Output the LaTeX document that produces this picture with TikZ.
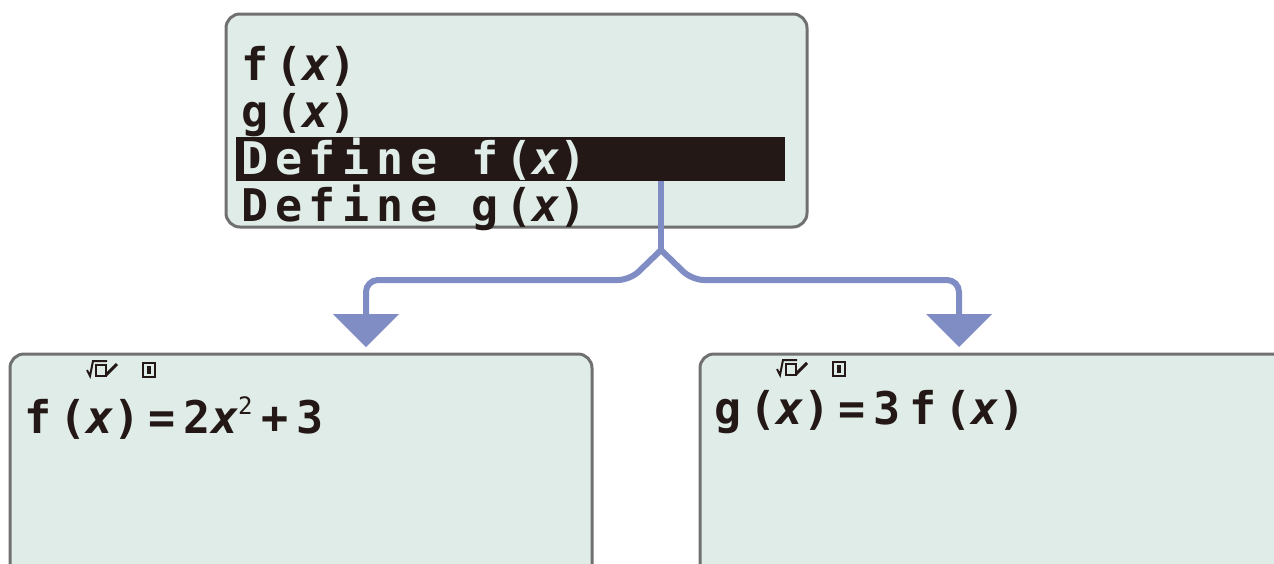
\documentclass[tikz,border=0pt]{standalone}
\usepackage{fontspec}
\setmonofont{DejaVu Sans Mono}
\newfontfamily\lcd[LetterSpace=15]{DejaVu Sans Mono}
\newfontfamily\lcdwide[LetterSpace=18]{DejaVu Sans Mono}
\definecolor{screen}{RGB}{224,236,232}
\definecolor{frame}{RGB}{112,112,112}
\definecolor{ink}{RGB}{35,24,21}
\definecolor{flow}{RGB}{128,140,196}
\tikzset{
  screenbox/.style={draw=frame, line width=3pt, fill=screen, rounded corners=14pt},
  lcdtext/.style={anchor=base west, inner sep=0pt, text=ink, font=\lcd\bfseries\fontsize{45}{45}\selectfont},
  lcdwidetext/.style={lcdtext, font=\lcdwide\bfseries\fontsize{45}{45}\selectfont},
  flowline/.style={draw=flow, line width=6pt},
  flowhead/.style={fill=flow, draw=none},
  iconline/.style={draw=ink, line width=2pt},
  pics/indicators/.style={code={
    \draw[iconline] (0,10) -- (3,16) -- (6,1) -- (20,1);
    \draw[iconline] (9,5) rectangle (19,16);
    \draw[iconline, line width=3pt] (19,15) -- (30,4);
    \draw[iconline] (56,3) rectangle (68,17);
    \fill[ink] (60,6) rectangle (64,14);
  }}
}
\newcommand{\xv}{{\itshape x}}
\begin{document}
\begin{tikzpicture}[x=1pt,y=-1pt]
\useasboundingbox (0,0) rectangle (1274,563);
% top screen
\draw[screenbox] (226,14) rectangle (807,227);
\node[inner sep=0pt, fill=ink, minimum width=549pt, minimum height=44pt, anchor=north west] (bar) at (236,137) {};
\node[lcdtext] (l1) at (241,80) {f(\xv)};
\node[lcdtext] (l2) at (241,127) {g(\xv)};
\node[lcdtext, text=screen] (l3) at (241,174) {Define f(\xv)};
\node[lcdtext] (l4) at (241,221) {Define g(\xv)};
% bottom screens
\draw[screenbox] (10,354) rectangle (592,600);
\draw[screenbox] (700,354) rectangle (1300,600);
\coordinate (lbox) at (366,354);
\coordinate (rbox) at (959,354);
\pic at (87,360) {indicators};
\pic at (777,359) {indicators};
\node[lcdwidetext] (fdef) at (24,433) {f(\xv)=2\xv\raisebox{19pt}{\fontsize{24}{24}\selectfont\mdseries 2}\kern9pt+3};
\node[lcdwidetext] (gdef) at (714,424) {g(\xv)=3f(\xv)};
% connectors
\coordinate (start) at (661,181);
\coordinate (split) at (661,250);
\draw[flowline] (start) -- (split);
\draw[flowline, rounded corners=12pt] (split) -- (630,280) -- (366,280) -- (366,318);
\draw[flowline, rounded corners=12pt] (split) -- (692,280) -- (959,280) -- (959,318);
\fill[flowhead] (333,314) -- (399,314) -- (366,347) -- cycle;
\fill[flowhead] (926,314) -- (992,314) -- (959,347) -- cycle;
\end{tikzpicture}
\end{document}
